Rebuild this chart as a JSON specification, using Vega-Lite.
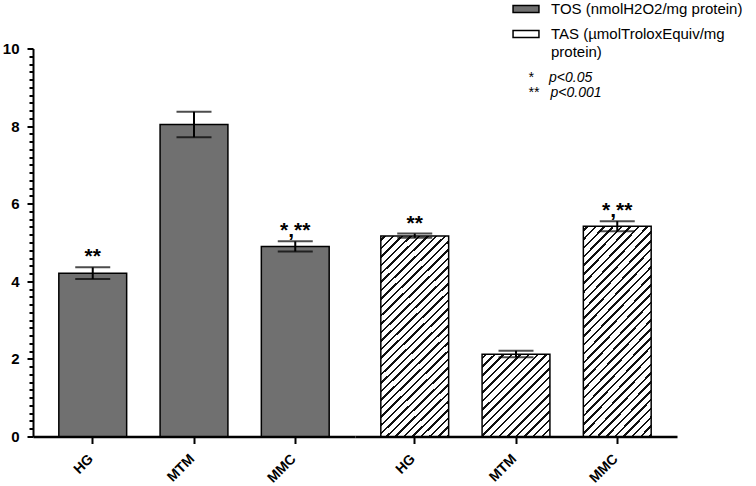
{
  "$schema": "https://vega.github.io/schema/vega-lite/v6.json",
  "padding": {"left": 2, "top": 3.5, "right": 0, "bottom": 0},
  "spacing": 0,
  "bounds": "flush",
  "config": {
    "view": {"stroke": null},
    "font": "Liberation Sans",
    "axis": {"labelFont": "Liberation Sans", "labelFontWeight": "bold", "labelColor": "black", "domainColor": "black", "tickColor": "black", "grid": false},
    "axisX": {"title": null, "labels": false, "tickSize": 7, "tickWidth": 2, "domainWidth": 2.5}
  },
  "data": {"values": [
    {"assay": "TOS", "group": "HG", "mean": 4.21, "lower": 4.06, "upper": 4.36, "sig": "**"},
    {"assay": "TOS", "group": "MTM", "mean": 8.04, "lower": 7.71, "upper": 8.37, "sig": ""},
    {"assay": "TOS", "group": "MMC", "mean": 4.9, "lower": 4.77, "upper": 5.03, "sig": "*,**"},
    {"assay": "TAS", "group": "HG", "mean": 5.17, "lower": 5.12, "upper": 5.23, "sig": "**"},
    {"assay": "TAS", "group": "MTM", "mean": 2.12, "lower": 2.04, "upper": 2.21, "sig": ""},
    {"assay": "TAS", "group": "MMC", "mean": 5.42, "lower": 5.29, "upper": 5.55, "sig": "*,**"}
  ]},
  "resolve": {"scale": {"color": "shared", "y": "shared"}},
  "hconcat": [
    {
      "width": 322, "height": 388,
      "transform": [{"filter": "datum.assay === 'TOS'"}],
      "resolve": {"axis": {"y": "independent"}},
      "layer": [
        {
          "mark": {"type": "bar", "stroke": "black", "strokeWidth": 1.5},
          "encoding": {
            "x": {"field": "group", "type": "nominal", "sort": null,
              "scale": {"domain": ["HG", "MTM", "MMC"], "paddingInner": 0.33, "paddingOuter": 0.255},
              "axis": {"title": null, "labels": false}},
            "y": {"field": "mean", "type": "quantitative",
              "scale": {"domain": [0, 10], "nice": false},
              "axis": {"title": null, "orient": "left", "values": [0, 2, 4, 6, 8, 10], "tickSize": 6, "tickWidth": 2, "domainWidth": 2, "labelFontSize": 15, "labelPadding": 8}},
            "color": {"field": "assay", "type": "nominal",
              "scale": {"domain": ["TOS", "TAS", "notes"], "range": ["#707070", "#ffffff", "#ffffff"]},
              "legend": {
                "orient": "none", "direction": "vertical", "legendX": 488, "legendY": -44.5, "title": null, "padding": 0,
                "symbolType": "M-3.7,-1H3.7V1H-3.7Z", "symbolSize": 49, "symbolStrokeColor": "black", "symbolStrokeWidth": 1.5,
                "labelFont": "Liberation Sans", "labelFontSize": 15, "labelColor": "black", "labelLimit": 400, "labelOffset": 20, "rowPadding": 10,
                "labelExpr": "datum.value === 'TAS' ? ['TAS (µmolTroloxEquiv/mg', 'protein)'] : datum.value === 'notes' ? ['*\u00a0\u00a0\u00a0\u00a0p<0.05', '**\u00a0\u00a0\u00a0p<0.001'] : 'TOS (nmolH2O2/mg protein)'",
                "encode": {
                  "symbols": {"update": {
                    "fill": [{"test": "datum.value === 'TAS'", "value": {"gradient": "linear", "x1": 0, "y1": 0, "x2": 10.185, "y2": 2.742, "stops": [
                      {"offset": 0.0108, "color": "#fff"}, {"offset": 0.0108, "color": "#111"}, {"offset": 0.0196, "color": "#111"}, {"offset": 0.0196, "color": "#fff"},
                      {"offset": 0.0411, "color": "#fff"}, {"offset": 0.0411, "color": "#111"}, {"offset": 0.0499, "color": "#111"}, {"offset": 0.0499, "color": "#fff"},
                      {"offset": 0.0714, "color": "#fff"}, {"offset": 0.0714, "color": "#111"}, {"offset": 0.0802, "color": "#111"}, {"offset": 0.0802, "color": "#fff"},
                      {"offset": 0.1017, "color": "#fff"}, {"offset": 0.1017, "color": "#111"}, {"offset": 0.1105, "color": "#111"}, {"offset": 0.1105, "color": "#fff"}
                    ]}}, {"scale": "color", "field": "value"}],
                    "stroke": {"value": "black"},
                    "strokeWidth": {"value": 1.5},
                    "opacity": [{"test": "datum.value === 'notes'", "value": 0}, {"value": 1}]
                  }},
                  "labels": {"update": {
                    "fontSize": [{"test": "datum.value === 'notes'", "value": 14}, {"value": 15}],
                    "fontStyle": [{"test": "datum.value === 'notes'", "value": "italic"}, {"value": "normal"}],
                    "lineHeight": [{"test": "datum.value === 'notes'", "value": 15}, {"value": 17.5}],
                    "dx": [{"test": "datum.value === 'notes'", "value": -23}, {"value": 0}],
                    "dy": [{"test": "datum.value === 'notes'", "value": 3}, {"value": 0}]
                  }}
                }
              }}
          }
        },
        {
          "mark": {"type": "errorbar", "ticks": {"size": 35, "thickness": 2, "color": "black"}, "rule": {"strokeWidth": 2, "color": "black"}},
          "encoding": {
            "x": {"field": "group", "type": "nominal", "sort": null, "scale": {"domain": ["HG", "MTM", "MMC"]}},
            "y": {"field": "lower", "type": "quantitative", "axis": null},
            "y2": {"field": "upper"}
          }
        },
        {
          "mark": {"type": "text", "fontSize": 21, "fontWeight": "bold", "baseline": "alphabetic", "dy": -4, "color": "black", "font": "Liberation Sans"},
          "encoding": {
            "x": {"field": "group", "type": "nominal", "sort": null, "scale": {"domain": ["HG", "MTM", "MMC"]}},
            "y": {"field": "upper", "type": "quantitative",
              "axis": {"title": null, "orient": "left", "labels": false, "domain": false, "tickSize": 4, "tickWidth": 2,
                "values": [0.2,0.4,0.6,0.8,1,1.2,1.4,1.6,1.8,2.2,2.4,2.6,2.8,3,3.2,3.4,3.6,3.8,4.2,4.4,4.6,4.8,5,5.2,5.4,5.6,5.8,6.2,6.4,6.6,6.8,7,7.2,7.4,7.6,7.8,8.2,8.4,8.6,8.8,9,9.2,9.4,9.6,9.8]}},
            "text": {"field": "sig"}
          }
        },
        {
          "mark": {"type": "text", "angle": 315, "align": "right", "baseline": "middle", "dx": -15.6, "dy": 13.4, "fontSize": 14, "fontWeight": "bold", "color": "black", "font": "Liberation Sans"},
          "encoding": {
            "x": {"field": "group", "type": "nominal", "sort": null, "scale": {"domain": ["HG", "MTM", "MMC"]}},
            "y": {"datum": 0, "type": "quantitative", "axis": null},
            "text": {"field": "group"}
          }
        }
      ]
    },
    {
      "width": 322, "height": 388,
      "transform": [{"filter": "datum.assay === 'TAS'"}],
      "layer": [
        {
          "transform": [{"filter": "datum.group !== 'MTM'"}],
          "mark": {"type": "bar", "stroke": "black", "strokeWidth": 1.5,
            "fill": {"gradient": "linear", "x1": 0, "y1": 0, "x2": 0.413, "y2": 1.2488, "stops": [
              {"offset": 0.0108, "color": "#fff"}, {"offset": 0.0108, "color": "#111"}, {"offset": 0.0196, "color": "#111"}, {"offset": 0.0196, "color": "#fff"},
              {"offset": 0.0411, "color": "#fff"}, {"offset": 0.0411, "color": "#111"}, {"offset": 0.0499, "color": "#111"}, {"offset": 0.0499, "color": "#fff"},
              {"offset": 0.0714, "color": "#fff"}, {"offset": 0.0714, "color": "#111"}, {"offset": 0.0802, "color": "#111"}, {"offset": 0.0802, "color": "#fff"},
              {"offset": 0.1017, "color": "#fff"}, {"offset": 0.1017, "color": "#111"}, {"offset": 0.1105, "color": "#111"}, {"offset": 0.1105, "color": "#fff"},
              {"offset": 0.132, "color": "#fff"}, {"offset": 0.132, "color": "#111"}, {"offset": 0.1408, "color": "#111"}, {"offset": 0.1408, "color": "#fff"},
              {"offset": 0.1623, "color": "#fff"}, {"offset": 0.1623, "color": "#111"}, {"offset": 0.1711, "color": "#111"}, {"offset": 0.1711, "color": "#fff"},
              {"offset": 0.1926, "color": "#fff"}, {"offset": 0.1926, "color": "#111"}, {"offset": 0.2014, "color": "#111"}, {"offset": 0.2014, "color": "#fff"},
              {"offset": 0.2229, "color": "#fff"}, {"offset": 0.2229, "color": "#111"}, {"offset": 0.2317, "color": "#111"}, {"offset": 0.2317, "color": "#fff"},
              {"offset": 0.2532, "color": "#fff"}, {"offset": 0.2532, "color": "#111"}, {"offset": 0.262, "color": "#111"}, {"offset": 0.262, "color": "#fff"},
              {"offset": 0.2835, "color": "#fff"}, {"offset": 0.2835, "color": "#111"}, {"offset": 0.2923, "color": "#111"}, {"offset": 0.2923, "color": "#fff"},
              {"offset": 0.3138, "color": "#fff"}, {"offset": 0.3138, "color": "#111"}, {"offset": 0.3226, "color": "#111"}, {"offset": 0.3226, "color": "#fff"},
              {"offset": 0.3441, "color": "#fff"}, {"offset": 0.3441, "color": "#111"}, {"offset": 0.3529, "color": "#111"}, {"offset": 0.3529, "color": "#fff"},
              {"offset": 0.3744, "color": "#fff"}, {"offset": 0.3744, "color": "#111"}, {"offset": 0.3832, "color": "#111"}, {"offset": 0.3832, "color": "#fff"},
              {"offset": 0.4047, "color": "#fff"}, {"offset": 0.4047, "color": "#111"}, {"offset": 0.4135, "color": "#111"}, {"offset": 0.4135, "color": "#fff"},
              {"offset": 0.435, "color": "#fff"}, {"offset": 0.435, "color": "#111"}, {"offset": 0.4438, "color": "#111"}, {"offset": 0.4438, "color": "#fff"},
              {"offset": 0.4653, "color": "#fff"}, {"offset": 0.4653, "color": "#111"}, {"offset": 0.4741, "color": "#111"}, {"offset": 0.4741, "color": "#fff"},
              {"offset": 0.4956, "color": "#fff"}, {"offset": 0.4956, "color": "#111"}, {"offset": 0.5044, "color": "#111"}, {"offset": 0.5044, "color": "#fff"},
              {"offset": 0.5259, "color": "#fff"}, {"offset": 0.5259, "color": "#111"}, {"offset": 0.5347, "color": "#111"}, {"offset": 0.5347, "color": "#fff"},
              {"offset": 0.5562, "color": "#fff"}, {"offset": 0.5562, "color": "#111"}, {"offset": 0.565, "color": "#111"}, {"offset": 0.565, "color": "#fff"},
              {"offset": 0.5865, "color": "#fff"}, {"offset": 0.5865, "color": "#111"}, {"offset": 0.5953, "color": "#111"}, {"offset": 0.5953, "color": "#fff"},
              {"offset": 0.6168, "color": "#fff"}, {"offset": 0.6168, "color": "#111"}, {"offset": 0.6256, "color": "#111"}, {"offset": 0.6256, "color": "#fff"},
              {"offset": 0.6471, "color": "#fff"}, {"offset": 0.6471, "color": "#111"}, {"offset": 0.6559, "color": "#111"}, {"offset": 0.6559, "color": "#fff"},
              {"offset": 0.6774, "color": "#fff"}, {"offset": 0.6774, "color": "#111"}, {"offset": 0.6862, "color": "#111"}, {"offset": 0.6862, "color": "#fff"},
              {"offset": 0.7077, "color": "#fff"}, {"offset": 0.7077, "color": "#111"}, {"offset": 0.7165, "color": "#111"}, {"offset": 0.7165, "color": "#fff"},
              {"offset": 0.738, "color": "#fff"}, {"offset": 0.738, "color": "#111"}, {"offset": 0.7468, "color": "#111"}, {"offset": 0.7468, "color": "#fff"},
              {"offset": 0.7683, "color": "#fff"}, {"offset": 0.7683, "color": "#111"}, {"offset": 0.7771, "color": "#111"}, {"offset": 0.7771, "color": "#fff"},
              {"offset": 0.7986, "color": "#fff"}, {"offset": 0.7986, "color": "#111"}, {"offset": 0.8074, "color": "#111"}, {"offset": 0.8074, "color": "#fff"},
              {"offset": 0.8289, "color": "#fff"}, {"offset": 0.8289, "color": "#111"}, {"offset": 0.8377, "color": "#111"}, {"offset": 0.8377, "color": "#fff"},
              {"offset": 0.8592, "color": "#fff"}, {"offset": 0.8592, "color": "#111"}, {"offset": 0.868, "color": "#111"}, {"offset": 0.868, "color": "#fff"},
              {"offset": 0.8895, "color": "#fff"}, {"offset": 0.8895, "color": "#111"}, {"offset": 0.8983, "color": "#111"}, {"offset": 0.8983, "color": "#fff"},
              {"offset": 0.9198, "color": "#fff"}, {"offset": 0.9198, "color": "#111"}, {"offset": 0.9286, "color": "#111"}, {"offset": 0.9286, "color": "#fff"},
              {"offset": 0.9501, "color": "#fff"}, {"offset": 0.9501, "color": "#111"}, {"offset": 0.9589, "color": "#111"}, {"offset": 0.9589, "color": "#fff"},
              {"offset": 0.9804, "color": "#fff"}, {"offset": 0.9804, "color": "#111"}, {"offset": 0.9892, "color": "#111"}, {"offset": 0.9892, "color": "#fff"}
            ]}},
          "encoding": {
            "x": {"field": "group", "type": "nominal", "sort": null,
              "scale": {"domain": ["HG", "MTM", "MMC"], "paddingInner": 0.33, "paddingOuter": 0.255},
              "axis": {"title": null, "labels": false}},
            "y": {"field": "mean", "type": "quantitative", "scale": {"domain": [0, 10], "nice": false}, "axis": null}
          }
        },
        {
          "transform": [{"filter": "datum.group === 'MTM'"}],
          "mark": {"type": "bar", "stroke": "black", "strokeWidth": 1.5,
            "fill": {"gradient": "linear", "x1": 0, "y1": 0, "x2": 1.6935, "y2": 2.0557, "stops": [
              {"offset": 0.0108, "color": "#fff"}, {"offset": 0.0108, "color": "#111"}, {"offset": 0.0196, "color": "#111"}, {"offset": 0.0196, "color": "#fff"},
              {"offset": 0.0411, "color": "#fff"}, {"offset": 0.0411, "color": "#111"}, {"offset": 0.0499, "color": "#111"}, {"offset": 0.0499, "color": "#fff"},
              {"offset": 0.0714, "color": "#fff"}, {"offset": 0.0714, "color": "#111"}, {"offset": 0.0802, "color": "#111"}, {"offset": 0.0802, "color": "#fff"},
              {"offset": 0.1017, "color": "#fff"}, {"offset": 0.1017, "color": "#111"}, {"offset": 0.1105, "color": "#111"}, {"offset": 0.1105, "color": "#fff"},
              {"offset": 0.132, "color": "#fff"}, {"offset": 0.132, "color": "#111"}, {"offset": 0.1408, "color": "#111"}, {"offset": 0.1408, "color": "#fff"},
              {"offset": 0.1623, "color": "#fff"}, {"offset": 0.1623, "color": "#111"}, {"offset": 0.1711, "color": "#111"}, {"offset": 0.1711, "color": "#fff"},
              {"offset": 0.1926, "color": "#fff"}, {"offset": 0.1926, "color": "#111"}, {"offset": 0.2014, "color": "#111"}, {"offset": 0.2014, "color": "#fff"},
              {"offset": 0.2229, "color": "#fff"}, {"offset": 0.2229, "color": "#111"}, {"offset": 0.2317, "color": "#111"}, {"offset": 0.2317, "color": "#fff"},
              {"offset": 0.2532, "color": "#fff"}, {"offset": 0.2532, "color": "#111"}, {"offset": 0.262, "color": "#111"}, {"offset": 0.262, "color": "#fff"},
              {"offset": 0.2835, "color": "#fff"}, {"offset": 0.2835, "color": "#111"}, {"offset": 0.2923, "color": "#111"}, {"offset": 0.2923, "color": "#fff"},
              {"offset": 0.3138, "color": "#fff"}, {"offset": 0.3138, "color": "#111"}, {"offset": 0.3226, "color": "#111"}, {"offset": 0.3226, "color": "#fff"},
              {"offset": 0.3441, "color": "#fff"}, {"offset": 0.3441, "color": "#111"}, {"offset": 0.3529, "color": "#111"}, {"offset": 0.3529, "color": "#fff"},
              {"offset": 0.3744, "color": "#fff"}, {"offset": 0.3744, "color": "#111"}, {"offset": 0.3832, "color": "#111"}, {"offset": 0.3832, "color": "#fff"},
              {"offset": 0.4047, "color": "#fff"}, {"offset": 0.4047, "color": "#111"}, {"offset": 0.4135, "color": "#111"}, {"offset": 0.4135, "color": "#fff"},
              {"offset": 0.435, "color": "#fff"}, {"offset": 0.435, "color": "#111"}, {"offset": 0.4438, "color": "#111"}, {"offset": 0.4438, "color": "#fff"},
              {"offset": 0.4653, "color": "#fff"}, {"offset": 0.4653, "color": "#111"}, {"offset": 0.4741, "color": "#111"}, {"offset": 0.4741, "color": "#fff"},
              {"offset": 0.4956, "color": "#fff"}, {"offset": 0.4956, "color": "#111"}, {"offset": 0.5044, "color": "#111"}, {"offset": 0.5044, "color": "#fff"},
              {"offset": 0.5259, "color": "#fff"}, {"offset": 0.5259, "color": "#111"}, {"offset": 0.5347, "color": "#111"}, {"offset": 0.5347, "color": "#fff"}
            ]}},
          "encoding": {
            "x": {"field": "group", "type": "nominal", "sort": null, "scale": {"domain": ["HG", "MTM", "MMC"]}},
            "y": {"field": "mean", "type": "quantitative", "axis": null}
          }
        },
        {
          "mark": {"type": "errorbar", "ticks": {"size": 35, "thickness": 2, "color": "black"}, "rule": {"strokeWidth": 2, "color": "black"}},
          "encoding": {
            "x": {"field": "group", "type": "nominal", "sort": null, "scale": {"domain": ["HG", "MTM", "MMC"]}},
            "y": {"field": "lower", "type": "quantitative", "axis": null},
            "y2": {"field": "upper"}
          }
        },
        {
          "mark": {"type": "text", "fontSize": 21, "fontWeight": "bold", "baseline": "alphabetic", "dy": -4, "color": "black", "font": "Liberation Sans"},
          "encoding": {
            "x": {"field": "group", "type": "nominal", "sort": null, "scale": {"domain": ["HG", "MTM", "MMC"]}},
            "y": {"field": "upper", "type": "quantitative", "axis": null},
            "text": {"field": "sig"}
          }
        },
        {
          "mark": {"type": "text", "angle": 315, "align": "right", "baseline": "middle", "dx": -15.6, "dy": 13.4, "fontSize": 14, "fontWeight": "bold", "color": "black", "font": "Liberation Sans"},
          "encoding": {
            "x": {"field": "group", "type": "nominal", "sort": null, "scale": {"domain": ["HG", "MTM", "MMC"]}},
            "y": {"datum": 0, "type": "quantitative", "axis": null},
            "text": {"field": "group"}
          }
        }
      ]
    }
  ]
}
